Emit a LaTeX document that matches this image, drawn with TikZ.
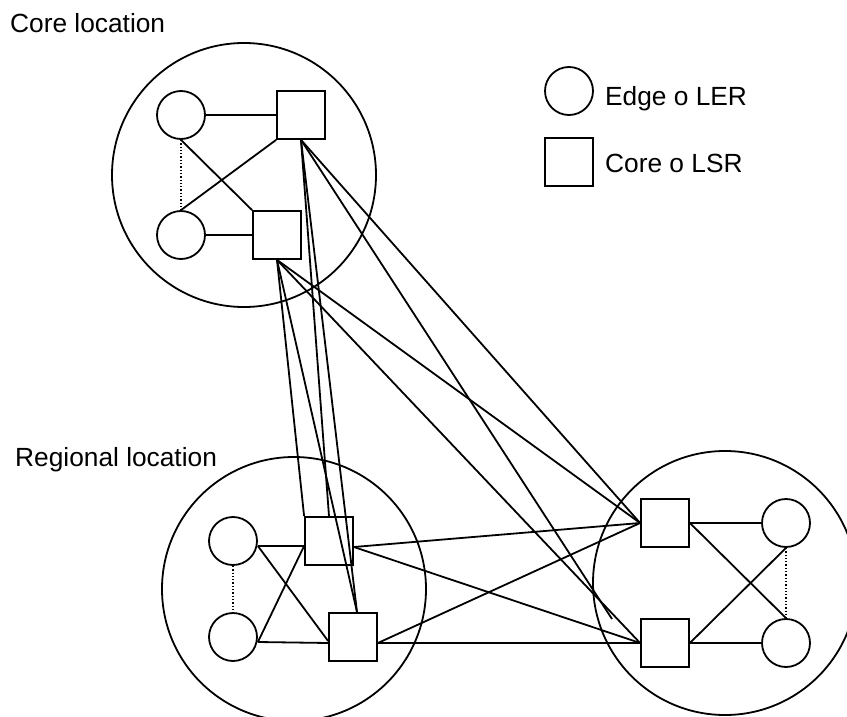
\documentclass[tikz,border=0pt]{standalone}
\usepackage{fontspec}
\setmainfont{Liberation Sans}
\begin{document}
\begin{tikzpicture}[x=1pt,y=-1pt,
  wire/.style={line width=1.8pt},
  dotwire/.style={line width=1.3pt,dotted},
  site/.style={circle,draw,line width=1.8pt,inner sep=0pt,minimum size=264pt},
  ler/.style={circle,draw,line width=1.8pt,inner sep=0pt,minimum size=48pt},
  lsr/.style={rectangle,draw,line width=1.8pt,inner sep=0pt,minimum size=48pt},
  caption/.style={anchor=base west,inner sep=0pt,font=\fontsize{26.3}{30}\selectfont}]
\useasboundingbox (0,0) rectangle (847,717);

% sites
\node[site] (core) at (244,175) {};
\node[site] (reg) at (294,589) {};
\node[site] (rem) at (725,583) {};

% labels
\node[caption] (tcore) at (10,33) {Core location};
\node[caption] (treg) at (15,466) {Regional location};

% legend
\node[ler] (lc) at (569,91) {};
\node[lsr] (ls) at (569,162) {};
\node[caption] (tler) at (605,106) {Edge o LER};
\node[caption] (tlsr) at (605,172) {Core o LSR};

% core site routers
\node[ler] (c1) at (181,115) {};
\node[ler] (c2) at (181,235) {};
\node[lsr] (A) at (301,115) {};
\node[lsr] (B) at (277,235) {};

% regional site routers
\node[ler] (c3) at (233,541) {};
\node[ler] (c4) at (233,637) {};
\node[lsr] (C) at (329,541) {};
\node[lsr] (D) at (353,637) {};

% remote site routers
\node[lsr] (E) at (665,523) {};
\node[lsr] (F) at (665,643) {};
\node[ler] (c5) at (786,523) {};
\node[ler] (c6) at (786,643) {};

\coordinate (tail) at (612,619);

% links inside the core site
\draw[wire] (c1.east) -- (A.west);
\draw[wire] (c2.east) -- (B.west);
\draw[wire] (c1.south) -- (B.north west);
\draw[wire] (c2.north) -- (A.south west);
\draw[dotwire] (c1.south) -- (c2.north);

% links inside the regional site
\draw[wire] ([yshift=-5pt]c3.east) -- ([yshift=-5pt]C.west);
\draw[wire] ([yshift=-5pt]c4.east) -- ([yshift=-6pt]D.west);
\draw[wire] ([yshift=-5pt]c3.east) -- ([yshift=-4pt]D.west);
\draw[wire] ([yshift=-5pt]c4.east) -- ([yshift=-5pt]C.west);
\draw[dotwire] (c3.south) -- (c4.north);

% links inside the remote site
\draw[wire] (E.east) -- (c5.west);
\draw[wire] (F.east) -- (c6.west);
\draw[wire] (E.east) -- (c6.north);
\draw[wire] (F.east) -- (c5.south);
\draw[dotwire] (c5.south) -- (c6.north);

% core to regional
\draw[wire] (A.south) -- (C.north);
\draw[wire] (A.south) -- ([xshift=4pt]D.north);
\draw[wire] (B.south) -- (C.north west);
\draw[wire] (B.south) -- ([xshift=4pt]D.north);

% core to remote
\draw[wire] (A.south) -- (E.west);
\draw[wire] (A.south) -- (tail);
\draw[wire] (B.south) -- (E.west);
\draw[wire] (B.south) -- (F.west);

% regional to remote
\draw[wire] ([yshift=-6pt]C.east) -- (E.west);
\draw[wire] ([yshift=-6pt]C.east) -- (F.west);
\draw[wire] ([yshift=-6pt]D.east) -- (E.west);
\draw[wire] ([yshift=-6pt]D.east) -- (F.west);
\end{tikzpicture}
\end{document}
